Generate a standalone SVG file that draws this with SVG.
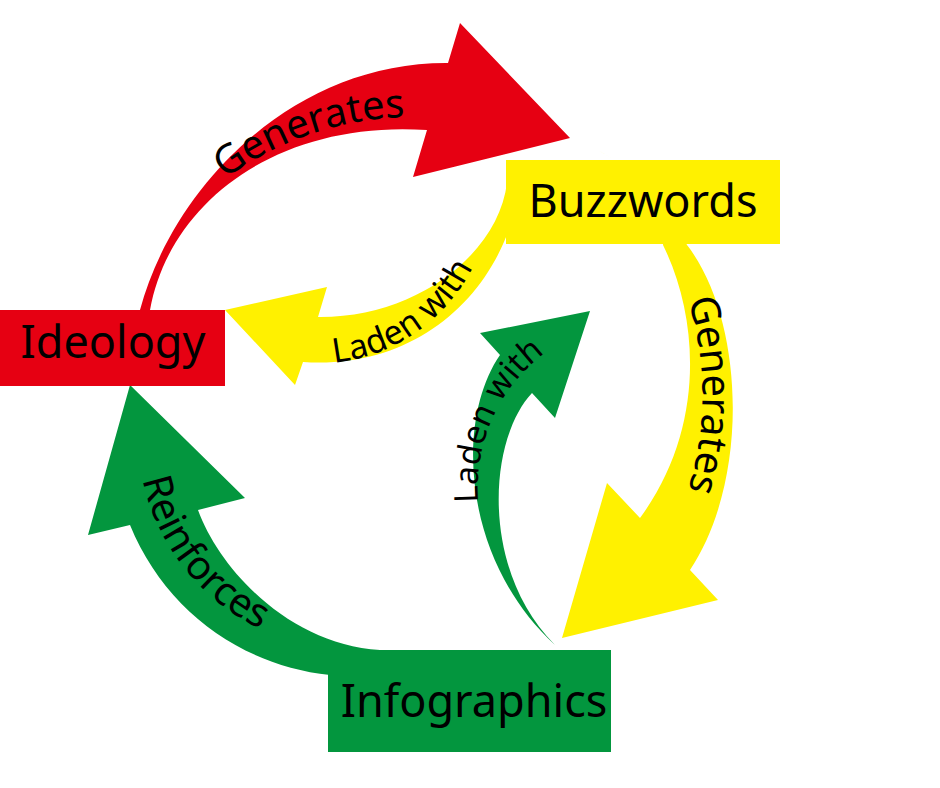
<svg xmlns="http://www.w3.org/2000/svg" width="940" height="788" viewBox="0 0 940 788">
<style>
.lbl{font-family:"Noto Sans","Open Sans","DejaVu Sans",sans-serif;fill:#000}
.box{font-size:45px}
.arc{font-size:40px}
.arc2{font-size:33px}
.red{fill:#e60012}.yel{fill:#fff100}.grn{fill:#03963e}
</style>
<defs>
<path id="pRed" d="M178.2,221.6 A316,316 0 0 1 467.9,121.8"/>
<path id="pYelGen" d="M659.6,235 A320,320 0 0 1 659.6,555"/>
<path id="pYelLad" d="M297.3,363 A177,177 0 0 0 486,232.8"/>
<path id="pGrnLad" d="M478.6,505.7 A169.3,169.3 0 0 1 547.5,351"/>
<path id="pGrnRei" d="M140.2,465.7 A215,215 0 0 0 273.1,634.6"/>
</defs>
<rect width="940" height="788" fill="#fff"/>
<g id="connectors">
<g id="ideology-generates-buzzwords">
<path class="red" d="M140,310 C172,190 290,62 448,63 L460,23 L570,138 L413,177 L427,130 C280,120 170,200 150,310 Z"/>
<text class="lbl arc"><textPath href="#pRed" startOffset="50%" text-anchor="middle">Generates</textPath></text>
</g>
<g id="buzzwords-laden-ideology">
<path class="yel" d="M507,183 C498,255 415,318 318,317 L327,287 L225,310 L295,385 L303,362 C420,370 505,290 520,185 Z"/>
<text class="lbl arc2" style="font-size:34px"><textPath href="#pYelLad" startOffset="50%" text-anchor="middle">Laden with</textPath></text>
</g>
<g id="buzzwords-generates-infographics">
<path class="yel" d="M598,150 C640,175 670,210 663,245 C700,320 705,430 640,518 L607,483 L562,638 L718,600 L690,570 C750,480 745,320 687,245 C670,210 640,175 598,150 Z"/>
<text class="lbl arc"><textPath href="#pYelGen" startOffset="50%" text-anchor="middle">Generates</textPath></text>
</g>
<g id="infographics-laden-buzzwords">
<path class="grn" d="M555,645 C462,560 455,420 500,355 L480,333 L590,311 L555,418 L532,393 C488,440 480,570 555,645 Z"/>
<text class="lbl arc2"><textPath href="#pGrnLad" startOffset="50%" text-anchor="middle">Laden with</textPath></text>
</g>
<g id="infographics-reinforces-ideology">
<path class="grn" d="M88,535 L130,385 L245,498 L198,510 C220,570 290,645 380,650 L430,655 L430,690 L330,675 C240,665 165,610 130,525 Z"/>
<text class="lbl arc"><textPath href="#pGrnRei" startOffset="50%" text-anchor="middle">Reinforces</textPath></text>
</g>
</g>
<g id="ideology">
<rect class="red" x="0" y="310" width="225" height="76"/>
<text class="lbl box" x="113" y="358" text-anchor="middle">Ideology</text>
</g>
<g id="buzzwords">
<rect class="yel" x="506" y="160" width="274" height="84"/>
<text class="lbl box" x="643" y="217" text-anchor="middle">Buzzwords</text>
</g>
<g id="infographics">
<rect class="grn" x="328" y="650" width="283" height="102"/>
<text class="lbl box" x="474" y="717" text-anchor="middle">Infographics</text>
</g>
</svg>
